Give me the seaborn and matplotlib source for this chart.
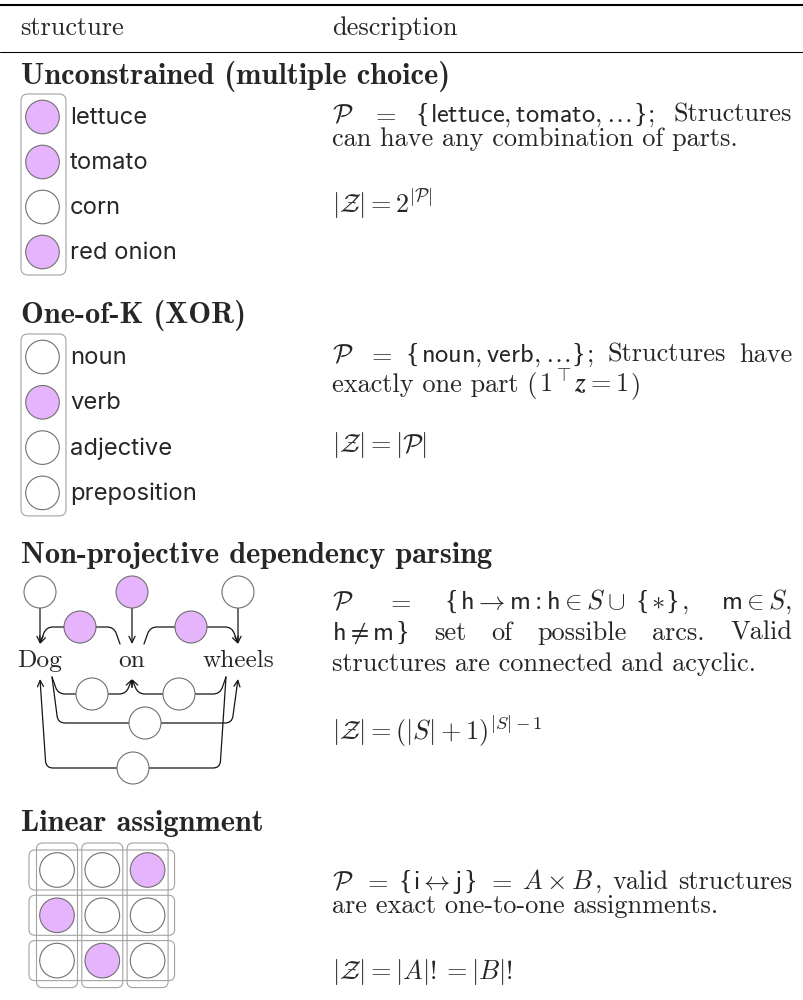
import re
import numpy as np
import pandas as pd
import matplotlib
matplotlib.use("Agg")
import matplotlib.pyplot as plt
import seaborn as sns
from matplotlib.patches import FancyBboxPatch, FancyArrowPatch
from matplotlib.path import Path

# ---------------------------------------------------------------- data
HEADER = ["structure", "description"]
TITLES = ["Unconstrained (multiple choice)", "One-of-K (XOR)",
          "Non-projective dependency parsing", "Linear assignment"]

INGREDIENTS = ["lettuce", "tomato", "corn", "red onion"]
INGREDIENT_ON = [True, True, False, True]

POS_TAGS = ["noun", "verb", "adjective", "preposition"]
POS_ON = [False, True, False, False]

WORDS = ["Dog", "on", "wheels"]
ROOT_ON = [False, True, False]
ARC_HEAD = [1, 1, 0, 2, 0, 2]
ARC_MOD = [0, 2, 1, 1, 2, 0]
ARC_ON = [True, True, False, False, False, False]
ARC_TIER = [0, 0, 1, 1, 2, 3]          # 0 = above the words, others below

ASSIGN_MATCH = [2, 0, 1]               # chosen column in each row

DESC_1 = [[r"$\mathcal{P}$", r"$=$", r"$\{\mathsf{lettuce},\mathsf{tomato},\ldots\}$;", "Structures"],
          "can have any combination of parts."]
DESC_2 = [[r"$\mathcal{P}$", r"$=$", r"$\{\mathsf{noun},\mathsf{verb},\ldots\}$;", "Structures", "have"],
          r"exactly one part ($\boldsymbol{1}^{\top}\BOLDZ = 1$)"]
DESC_3 = [[r"$\mathcal{P}$", r"$=$", r"$\{\mathsf{h}\to\mathsf{m} : \mathsf{h}\in S\cup\;\{*\},$", r"$\mathsf{m}\in S,$"],
          [r"$\mathsf{h}\neq\mathsf{m}\}$", "set", "of", "possible", "arcs.", "Valid"],
          "structures are connected and acyclic."]
DESC_4 = [[r"$\mathcal{P}$", r"$=$", r"$\{\mathsf{i}\leftrightarrow\mathsf{j}\}$", r"$=$", r"$A\times B$,", "valid", "structures"],
          "are exact one-to-one assignments."]
SIZES = [r"$|\mathcal{Z}| = 2^{|\mathcal{P}|}$",
         r"$|\mathcal{Z}| = |\mathcal{P}|$",
         r"$|\mathcal{Z}| = (|S|+1)^{|S|-1}$",
         r"$|\mathcal{Z}| = |A|! = |B|!$"]

# ---------------------------------------------------------------- style
PURPLE = "#e6b4fc"
NODE_EC = "#707070"
BOX_EC = "#a3a3a3"
LINE_C = "#151515"

sns.set_theme(style="white")
plt.rcParams["font.family"] = ["cmr10", "DejaVu Serif"]
plt.rcParams["mathtext.fontset"] = "cm"
plt.rcParams["axes.unicode_minus"] = False
plt.rcParams["axes.formatter.use_mathtext"] = True

SERIF = ["cmr10", "DejaVu Serif"]
BOLD = ["cmb10", "DejaVu Serif"]
SANS = ["Inter", "DejaVu Sans"]
BRACE = ["Liberation Serif", "DejaVu Serif"]

fig = plt.figure(figsize=(8.04, 10), dpi=100)
fig.patch.set_facecolor("white")
ax = fig.add_axes([0, 0, 1, 1])
ax.set_xlim(0, 804)
ax.set_ylim(1000, 0)
ax.set_axis_off()
ax.set_autoscale_on(False)
R = fig.canvas.get_renderer()


def twidth(s, size, family):
    t = ax.text(0, 0, s, fontsize=size, family=family)
    try:
        w = t.get_window_extent(R).width
    finally:
        t.remove()
    return w


# bold italic z if this mathtext knows \boldsymbol, upright bold otherwise
try:
    twidth(r"$\boldsymbol{z}\boldsymbol{1}$", 10, SERIF)
    DESC_2[1] = DESC_2[1].replace(r"\BOLDZ", r"\boldsymbol{z}")
except Exception:
    DESC_2[1] = DESC_2[1].replace(r"\BOLDZ", r"\mathbf{z}").replace(r"\boldsymbol{1}", r"\mathbf{1}")

BODY = 10 * 425 / twidth("structures are connected and acyclic.", 10, SERIF)
HEAD = 10 * 472 / twidth("Non-projective dependency parsing", 10, BOLD)
LABEL = 10 * 107 / twidth("red onion", 10, SANS)
WORDSZ = 10 * 72 / twidth("wheels", 10, SERIF)

X_LEFT, X0, X1 = 21, 332, 792
SEG_PAD = 1.5


def segments(tok):
    """Split a token into plain text, math, brace and trailing-space pieces."""
    out = []
    for i, p in enumerate(tok.split("$")):
        if not p:
            continue
        if i % 2 == 0:
            out.append(("text", p))
        else:
            for q in re.split(r"(\\\{|\\\})", p):
                if not q:
                    continue
                if q == r"\{":
                    out.append(("brace", "{"))
                elif q == r"\}":
                    out.append(("brace", "}"))
                elif q.endswith(r"\;"):
                    out.append(("math", "$" + q[:-2] + "$"))
                    out.append(("space", ""))
                else:
                    out.append(("math", "$" + q + "$"))
    return out


def seg_family(kind):
    return BRACE if kind == "brace" else SERIF


def seg_size(kind, size):
    return size * 1.08 if kind == "brace" else size


def seg_width(kind, s, size):
    if kind == "space":
        return 0.28 * size * 100 / 72
    return twidth(s, seg_size(kind, size), seg_family(kind))


def token_width(tok, size):
    segs = segments(tok)
    return sum(seg_width(k, s, size) for k, s in segs) + SEG_PAD * (len(segs) - 1)


def draw_token(tok, x, y, size):
    for k, s in segments(tok):
        if k != "space":
            ax.text(x, y, s, fontsize=seg_size(k, size), family=seg_family(k),
                    ha="left", va="baseline")
        x += seg_width(k, s, size) + SEG_PAD
    return x


def nodes(xs, ys, on, r):
    df = pd.DataFrame({"x": xs, "y": ys, "state": ["on" if o else "off" for o in on]})
    d_pt = 2 * r * 72 / 100
    sns.scatterplot(data=df, x="x", y="y", hue="state", hue_order=["on", "off"],
                    palette={"on": PURPLE, "off": "white"}, s=d_pt ** 2,
                    edgecolor=NODE_EC, linewidth=0.8, legend=False, ax=ax, zorder=5)


def rbox(x0, y0, x1, y1, rs, lw=0.8):
    ax.add_patch(FancyBboxPatch((x0, y0), x1 - x0, y1 - y0,
                                boxstyle=f"round,pad=0,rounding_size={rs}",
                                fc="none", ec=BOX_EC, lw=lw, zorder=2))


MIN_GAP = 4.5


def put_desc(lines, baselines, zline, zbase):
    for line, yb in zip(lines, baselines):
        if isinstance(line, list):
            size = BODY
            ws = [token_width(t, size) for t in line]
            if X1 - X0 - sum(ws) < MIN_GAP * (len(line) - 1):
                size = size * (X1 - X0 - MIN_GAP * (len(line) - 1)) / sum(ws)
                ws = [token_width(t, size) for t in line]
            gap = (X1 - X0 - sum(ws)) / (len(line) - 1)
            x = X0
            for t, w in zip(line, ws):
                draw_token(t, x, yb, size)
                x += w + gap
        else:
            draw_token(line, X0, yb, BODY)
    draw_token(zline, X0, zbase, BODY)


def heading(s, yb):
    ax.text(X_LEFT, yb, s, fontsize=HEAD, family=BOLD, ha="left", va="baseline")


def rounded_path(pts, rc):
    verts = [pts[0]]
    codes = [Path.MOVETO]
    for i in range(1, len(pts) - 1):
        p0, p1, p2 = (np.array(p, float) for p in pts[i - 1:i + 2])
        l1, l2 = np.linalg.norm(p1 - p0), np.linalg.norm(p2 - p1)
        a = p1 - (p1 - p0) / l1 * min(rc, l1 / 2)
        b = p1 + (p2 - p1) / l2 * min(rc, l2 / 2)
        verts += [a, p1, b]
        codes += [Path.LINETO, Path.CURVE3, Path.CURVE3]
    verts.append(pts[-1])
    codes.append(Path.LINETO)
    return Path(verts, codes)


ARROW = "->,head_length=4.5,head_width=2.2"

# ---------------------------------------------------------------- header
ax.axhline(5, color="black", lw=1.5)
ax.axhline(52, color="black", lw=0.75)
ax.text(20, 35, HEADER[0], fontsize=BODY, family=SERIF, va="baseline")
ax.text(X0, 35, HEADER[1], fontsize=BODY, family=SERIF, va="baseline")


# ---------------------------------------------------------------- lists
def choice_list(items, on, y_first, step):
    ys = [y_first + step * i for i in range(len(items))]
    rbox(21, ys[0] - 23, 66, ys[-1] + 23, 7)
    nodes([42.5] * len(items), ys, on, 16.8)
    for name, y in zip(items, ys):
        ax.text(70, y + 7, name, fontsize=LABEL, family=SANS, va="baseline")


heading(TITLES[0], 84)
choice_list(INGREDIENTS, INGREDIENT_ON, 117, 45)
put_desc(DESC_1, [122, 146], SIZES[0], 213)

heading(TITLES[1], 323)
choice_list(POS_TAGS, POS_ON, 357, 45.3)
put_desc(DESC_2, [362, 392], SIZES[1], 452)

# ---------------------------------------------------------------- dependency parse
heading(TITLES[2], 563)
WORD_X = [40, 132, 238]
WORD_BASE = 667
ROOT_Y, R_DEP = 592, 16
TOP_TIP, UP_LEVEL = 644, 627
BOT_START, BOT_TIP = 677, 679
LEVELS = {1: 694, 2: 723, 3: 768}

for w, x in zip(WORDS, WORD_X):
    ax.text(x, WORD_BASE, w, fontsize=WORDSZ, family=SERIF, ha="center", va="baseline")

cx, cy, con = [], [], []
for x, o in zip(WORD_X, ROOT_ON):
    ax.add_patch(FancyArrowPatch((x, ROOT_Y + R_DEP), (x, TOP_TIP), arrowstyle=ARROW,
                                 shrinkA=0, shrinkB=0, lw=0.9, color=LINE_C,
                                 mutation_scale=1, zorder=3))
    cx.append(x); cy.append(ROOT_Y); con.append(o)

for h, m, o, tier in zip(ARC_HEAD, ARC_MOD, ARC_ON, ARC_TIER):
    d = 1 if m > h else -1
    sx, tx = WORD_X[h] + 12 * d, WORD_X[m]
    if tier == 0:
        sy, ty, lev, k = TOP_TIP, TOP_TIP, UP_LEVEL, 6
    else:
        sy, ty, lev, k = BOT_START, BOT_TIP, LEVELS[tier], 6
    pts = [(sx, sy), (sx + k * d, lev), (tx - k * d, lev), (tx, ty)]
    ax.add_patch(FancyArrowPatch(path=rounded_path(pts, 7), arrowstyle=ARROW, lw=0.9,
                                 color=LINE_C, mutation_scale=1, zorder=3))
    cx.append((sx + k * d + tx - k * d) / 2); cy.append(lev); con.append(o)

nodes(cx, cy, con, R_DEP)
put_desc(DESC_3, [609, 640, 671], SIZES[2], 740)

# ---------------------------------------------------------------- linear assignment
heading(TITLES[3], 831)
GX0, GY0, GSTEP, GR = 57, 870, 45.3, 17.3
n = len(ASSIGN_MATCH)
gx = [GX0 + GSTEP * j for j in range(n)]
gy = [GY0 + GSTEP * i for i in range(n)]
for y in gy:
    rbox(gx[0] - 28, y - 20, gx[-1] + 27, y + 20, 6)
for x in gx:
    rbox(x - 20.5, gy[0] - 27, x + 20.5, gy[-1] + 27, 6)
ax_, ay_, aon = [], [], []
for i in range(n):
    for j in range(n):
        ax_.append(gx[j]); ay_.append(gy[i]); aon.append(ASSIGN_MATCH[i] == j)
nodes(ax_, ay_, aon, GR)
put_desc(DESC_4, [889, 913], SIZES[3], 979)

ax.set_xlim(0, 804)
ax.set_ylim(1000, 0)
ax.set_axis_off()
fig.savefig("out.png", dpi=100, facecolor="white")
